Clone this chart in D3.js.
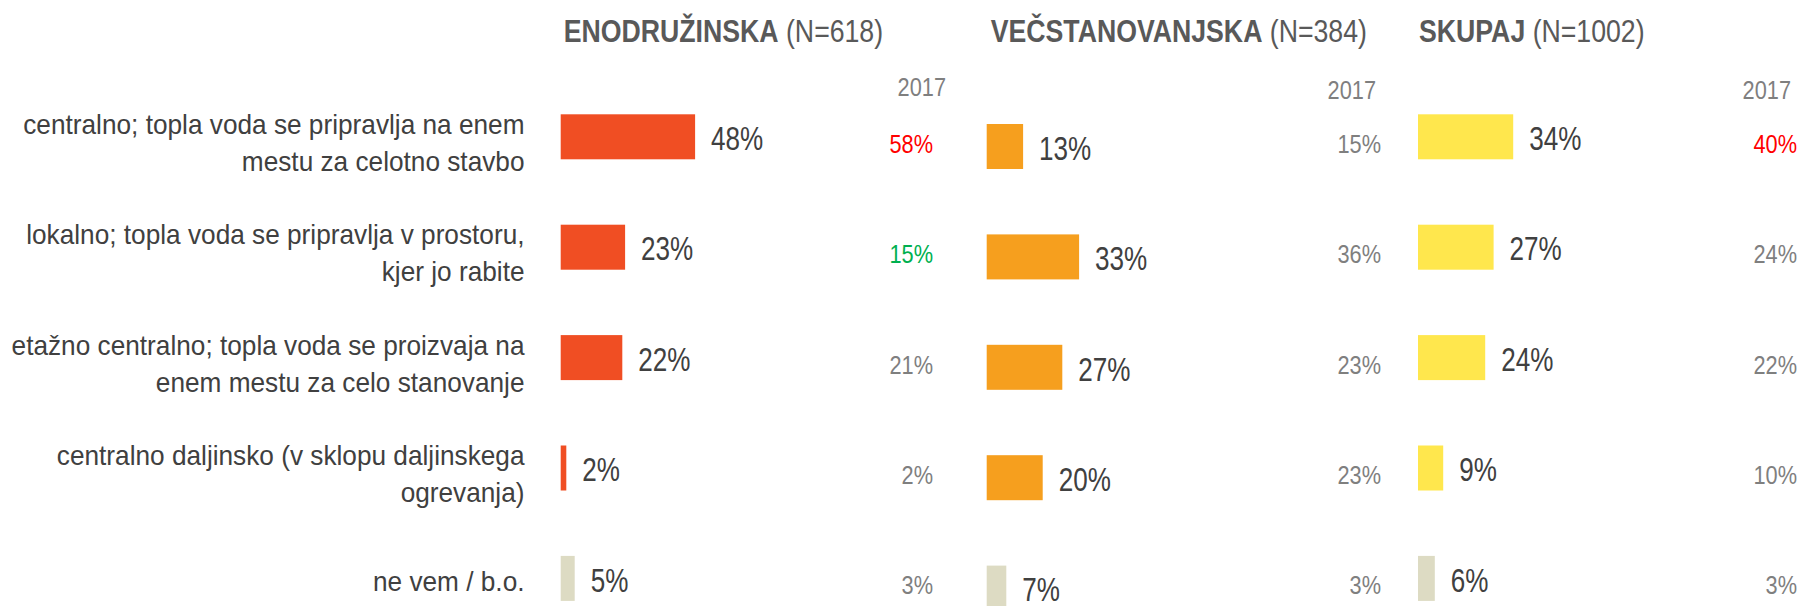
<!DOCTYPE html>
<html>
<head>
<meta charset="utf-8">
<script src="https://cdn.jsdelivr.net/npm/d3@7"></script>
<style>
  html, body { margin: 0; padding: 0; background: #ffffff; }
  svg { display: block; font-family: "Liberation Sans", Arial, sans-serif; }
</style>
</head>
<body>
<svg id="chart" width="1803" height="606"></svg>
<script>
// Categories (label lines as they wrap)
const categories = [
  ["centralno; topla voda se pripravlja na enem", "mestu za celotno stavbo"],
  ["lokalno; topla voda se pripravlja v prostoru,", "kjer jo rabite"],
  ["etažno centralno; topla voda se proizvaja na", "enem mestu za celo stanovanje"],
  ["centralno daljinsko (v sklopu daljinskega", "ogrevanja)"],
  ["ne vem / b.o."]
];

// Panel titles
const panelTitles = ["ENODRUŽINSKA", "VEČSTANOVANJSKA", "SKUPAJ"];
const panelN = ["(N=618)", "(N=384)", "(N=1002)"];
const yearLabel = "2017";

// Current shares (%)
const enodruzinska = [48, 23, 22, 2, 5];
const vecstanovanjska = [13, 33, 27, 20, 7];
const skupaj = [34, 27, 24, 9, 6];

// 2017 shares (%)
const enodruzinska2017 = [58, 15, 21, 2, 3];
const vecstanovanjska2017 = [15, 36, 23, 23, 3];
const skupaj2017 = [40, 24, 22, 10, 3];

// Statistically significant change vs 2017 (1 = yes)
const enodruzinskaSig = [1, 1, 0, 0, 0];
const vecstanovanjskaSig = [0, 0, 0, 0, 0];
const skupajSig = [1, 0, 0, 0, 0];

const seriesValues = [enodruzinska, vecstanovanjska, skupaj];
const seriesPrev = [enodruzinska2017, vecstanovanjska2017, skupaj2017];
const seriesSig = [enodruzinskaSig, vecstanovanjskaSig, skupajSig];

// ---- layout & styles ----
const panelLayout = [
  { x0: 560.7, dy: 0,   color: "#F04E23", titleDx: 3, yearRight: 946,  yearBase: 96,   prevRight: 933 },
  { x0: 986.7, dy: 9.7, color: "#F69F1E", titleDx: 4, yearRight: 1376, yearBase: 98.5, prevRight: 1381 },
  { x0: 1418,  dy: 0,   color: "#FFE74D", titleDx: 1, yearRight: 1791, yearBase: 98.5, prevRight: 1797 }
];
const otherColor = "#DDDBC3";
const labelRight = 524.5;
const barH = 45;

const svg = d3.select("#chart");

const x = d3.scaleLinear().domain([0, 100]).range([0, 280]);
const y = d3.scalePoint().domain(d3.range(categories.length)).range([136.8, 578.4]);

function addText(g, px, py, str, o) {
  return g.append("text")
    .attr("transform", `translate(${px},${py}) scale(${o.sx},1)`)
    .attr("text-anchor", o.anchor || "start")
    .style("font-size", o.size + "px")
    .style("font-weight", o.weight || "normal")
    .attr("fill", o.fill)
    .text(str);
}

// Category labels
const labelG = svg.append("g");
categories.forEach((lines, i) => {
  const first = lines.length > 1 ? y(i) - 3 : y(i) + 12.6;
  lines.forEach((ln, k) => {
    addText(labelG, labelRight, first + k * 37, ln,
      { size: 28.5, sx: 0.92, anchor: "end", fill: "#404040" });
  });
});

// Panels
panelLayout.forEach((p, pi) => {
  const g = svg.append("g");
  const vals = seriesValues[pi];
  const prev = seriesPrev[pi];
  const sig = seriesSig[pi];

  // title
  const t = g.append("text")
    .attr("transform", `translate(${p.x0 + p.titleDx},41.5) scale(0.875,1)`)
    .style("font-size", "30.5px")
    .attr("fill", "#595959");
  t.append("tspan").style("font-weight", "bold").text(panelTitles[pi]);
  t.append("tspan").text(" " + panelN[pi]);

  // year header
  addText(g, p.yearRight, p.yearBase, yearLabel,
    { size: 25.6, sx: 0.85, anchor: "end", fill: "#7F7F7F" });

  // bars
  g.selectAll("rect.bar").data(vals).join("rect")
    .attr("class", "bar")
    .attr("x", p.x0)
    .attr("y", (d, i) => y(i) + p.dy - barH / 2)
    .attr("width", d => x(d))
    .attr("height", barH)
    .attr("fill", (d, i) => i === categories.length - 1 ? otherColor : p.color);

  // value labels
  vals.forEach((d, i) => {
    addText(g, p.x0 + x(d) + 16, y(i) + p.dy + 13.2, d + "%",
      { size: 33, sx: 0.79, fill: "#404040" });
  });

  // 2017 values
  prev.forEach((d, i) => {
    let fill = "#7F7F7F";
    if (sig[i]) fill = vals[i] < d ? "#FF0000" : "#00B050";
    addText(g, p.prevRight, y(i) + 16, d + "%",
      { size: 25.6, sx: 0.85, anchor: "end", fill: fill });
  });
});
</script>
</body>
</html>
